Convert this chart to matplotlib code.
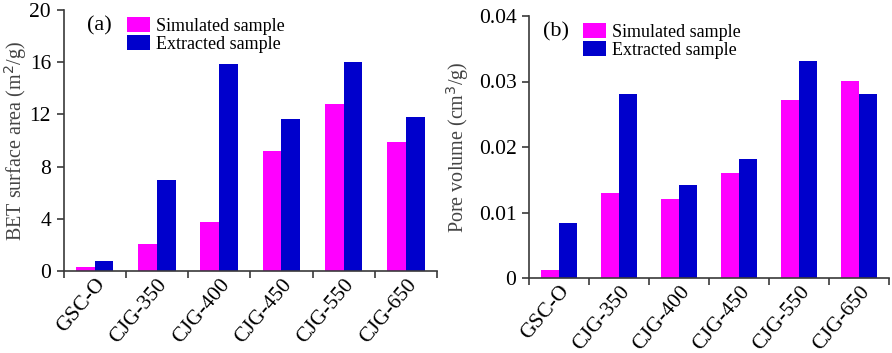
import numpy as np
import matplotlib.pyplot as plt

categories = ["GSC-O", "CJG-350", "CJG-400", "CJG-450", "CJG-550", "CJG-650"]

bet_simulated = [0.33, 2.07, 3.78, 9.2, 12.77, 9.88]
bet_extracted = [0.8, 6.97, 15.9, 11.67, 15.99, 11.83]

pore_simulated = [0.00127, 0.0130, 0.0121, 0.0160, 0.0271, 0.0301]
pore_extracted = [0.0084, 0.0281, 0.0142, 0.0181, 0.0331, 0.0281]

plt.rcParams["font.family"] = ["Liberation Serif", "DejaVu Serif"]

MAGENTA = "#ff00ff"
BLUE = "#0000cc"
SPINE = "#3a3a3a"

fig = plt.figure(figsize=(8.92, 3.53), dpi=100)

W, H = 892, 353


def make_axes(left, right, top, bottom):
    return fig.add_axes([left / W, 1 - bottom / H,
                         (right - left) / W, (bottom - top) / H])


def draw_panel(ax, sim, ext, ymax, yticks, yticklabels, ylabel, tag,
               tag_x, leg_x, label_x):
    x = np.arange(len(categories))
    width = 0.3
    ax.bar(x - width / 2, sim, width, color=MAGENTA,
           label="Simulated sample")
    ax.bar(x + width / 2, ext, width, color=BLUE,
           label="Extracted sample")

    ax.set_xlim(-0.5, len(categories) - 0.5)
    ax.set_ylim(0, ymax)

    ax.spines["top"].set_visible(False)
    ax.spines["right"].set_visible(False)
    for side in ["left", "bottom"]:
        ax.spines[side].set_color(SPINE)
        ax.spines[side].set_linewidth(1.2)

    ax.set_yticks(yticks)
    ax.set_yticklabels(yticklabels, fontsize=15.5)
    ax.tick_params(axis="y", direction="out", length=5,
                   color=SPINE, width=1.2, pad=4)

    # category labels at centres, tick marks at the boundaries
    ax.set_xticks(x)
    ax.set_xticklabels(categories, rotation=50, ha="right",
                       rotation_mode="anchor", fontsize=15.5)
    ax.tick_params(axis="x", which="major", length=0, pad=3)
    ax.set_xticks(np.arange(-0.5, len(categories)), minor=True)
    ax.tick_params(axis="x", which="minor", direction="out", length=5,
                   color=SPINE, width=1.2)

    ax.set_ylabel(ylabel, fontsize=14.5, color="#444444")
    ax.yaxis.set_label_coords(label_x, 0.5)

    ax.text(tag_x, 0.94, tag, transform=ax.transAxes, fontsize=16,
            va="center")
    ax.legend(loc="upper left", bbox_to_anchor=(leg_x, 1.0),
              frameon=False, fontsize=13, handlelength=1.3,
              handleheight=0.9, handletextpad=0.3, labelspacing=0.0,
              borderaxespad=0.1, borderpad=0.3)


ax1 = make_axes(63.5, 437, 10, 271)
draw_panel(ax1, bet_simulated, bet_extracted, 20,
           [0, 4, 8, 12, 16, 20], ["0", "4", "8", "12", "16", "20"],
           "BET surface area (m$^2$/g)", "(a)", 0.063, 0.15, -0.092)

ax2 = make_axes(529, 889, 16, 278)
draw_panel(ax2, pore_simulated, pore_extracted, 0.04,
           [0, 0.01, 0.02, 0.03, 0.04],
           ["0", "0.01", "0.02", "0.03", "0.04"],
           "Pore volume (cm$^3$/g)", "(b)", 0.039, 0.13, -0.16)

fig.savefig("out.png", dpi=100)
